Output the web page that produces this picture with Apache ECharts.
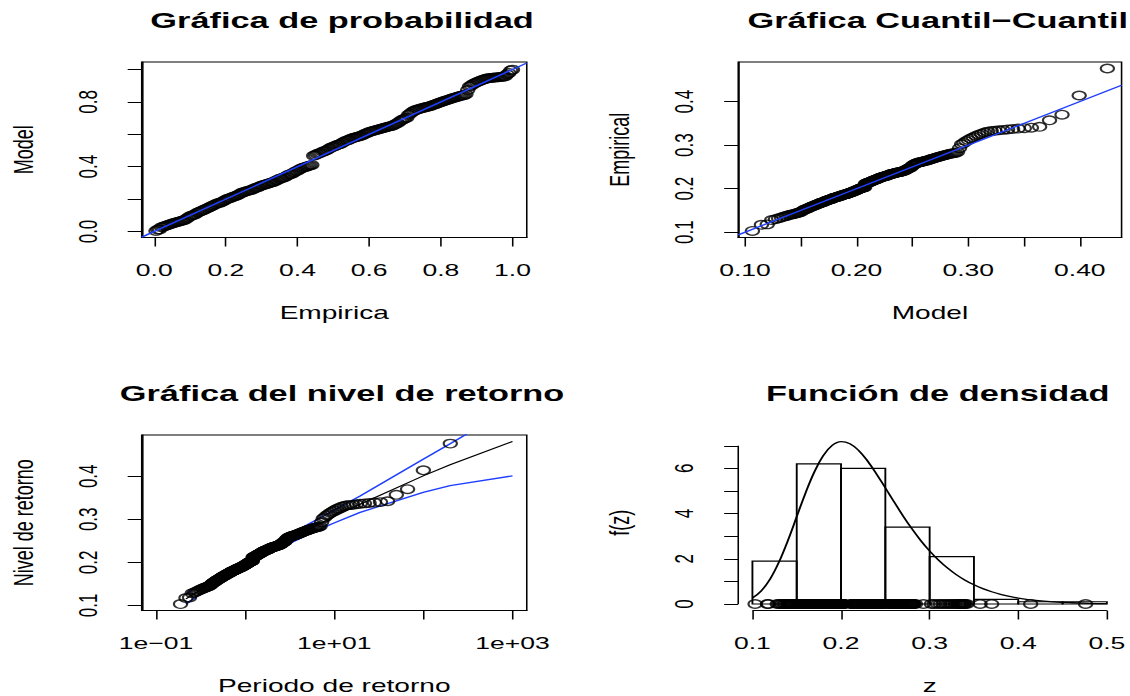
<!DOCTYPE html>
<html><head><meta charset="utf-8">
<script src="https://cdn.jsdelivr.net/npm/echarts@6/dist/echarts.min.js"></script>
<style>
html,body{margin:0;padding:0;background:#fff;overflow:hidden;width:1130px;height:696px}
#stage{width:724px;height:696px;transform:scaleX(1.560773);transform-origin:0 0;}
</style></head><body><div id="stage"></div>
<script>
// ---- data ----
// sorted sample (empirical quantiles), n = 200
const sampleZ = [
 .103,.117,.118,.128,.130,.132,.134,.136,.137,.139,.140,.141,.142,.143,.144,.145,.146,.148,.150,
 .152,.153,.154,.155,.157,.158,.159,.160,.161,.162,.163,
 .164,.165,.166,.167,.168,.1685,.169,.170,.171,.172,
 .173,.1735,.174,.175,.1755,.176,.177,.178,.179,.1795,
 .180,.1805,.181,.1815,.182,.183,.1835,.184,.185,.1855,
 .186,.1865,.187,.1875,.188,.1885,.189,.190,.1905,.1915,
 .192,.1925,.193,.194,.195,.1955,.196,.197,.198,.1985,.1995,
 .2005,.201,.2015,.202,.2025,.203,.2035,
 .2115,.212,.213,.2135,.214,.215,.2155,.216,.217,.218,.219,.2195,
 .220,.221,.2215,.222,.223,.224,.225,.2255,.226,.227,
 .2275,.228,.2285,.229,.2295,.230,.231,.232,.2325,.2335,
 .234,.2345,.235,.2355,.236,.2365,.237,.2375,.238,.2385,
 .239,.2395,.240,.241,.242,.243,.2445,.246,.247,.248,.249,
 .2525,.254,.256,.2575,.2585,.2595,.260,.261,.2615,
 .262,.263,.2635,.264,.265,.266,.267,.268,.269,.270,
 .271,.272,.273,.274,.275,.276,.277,.278,.279,.280,
 .281,.2815,.282,.284,.293,
 .302,.305,.309,.312,.315,.318,.321,.324,.326,.329,.331,.3325,.333,.334,.335,.336,.337,.338,.339,.340,.342,
 .357,.370,.414,.476
];
// fitted GEV parameters (location, scale, shape)
const gevLocation = 0.1975;
const gevScale = 0.0513;
const gevShape = -0.07;

// histogram
const histBreaks = [0.10,0.15,0.20,0.25,0.30,0.35,0.40,0.45,0.50];
const histDensity = [1.9,6.2,6.0,3.4,2.1,0.2,0.1,0.1];
// density curve
const densityZ = [.10,.11,.12,.13,.14,.15,.16,.17,.18,.19,.20,.21,.22,.23,.24,.25,.26,.27,.28,.29,.30,.31,.32,.33,.34,.35,.36,.37,.38,.39,.40,.42,.44,.46,.48,.50];
const densityF = [.265,.583,1.107,1.860,2.806,3.863,4.919,5.852,6.571,7.020,7.187,7.095,6.788,6.323,5.757,5.138,4.508,3.898,3.326,2.806,2.345,1.941,1.595,1.298,1.053,.848,.678,.540,.427,.336,.263,.158,.093,.054,.030,.017];
// return level curve: non-exceedance probabilities, levels and 95% half widths
const rlProb  = [.01,.02,.03,.04,.05,.06,.07,.08,.09,.1,.2,.3,.4,.5,.6,.7,.8,.9,.95,.99,.995,.999];
const rlLevel = [.1148,.1241,.1302,.1350,.1390,.1425,.1456,.1484,.1510,.1534,.1727,.1879,.2020,.2161,.2312,.2485,.2706,.3043,.3351,.401,.427,.481];
const rlHalf  = [.012,.011,.0105,.010,.0098,.0096,.0094,.0092,.0091,.009,.0085,.0085,.0085,.0088,.0093,.010,.0115,.0145,.0190,.0385,.0485,.0800];

// tick values / labels
const ppTicks = [0,0.2,0.4,0.6,0.8,1.0];
const ppXLabels = [0,0.2,0.4,0.6,0.8,1.0];
const ppYLabels = [0,0.4,0.8];
const qqXTicks = [0.10,0.15,0.20,0.25,0.30,0.35,0.40];
const qqXLabels = [0.10,0.20,0.30,0.40];
const zTicks = [0.1,0.2,0.3,0.4];
const rlTickExp = [-1,0,1,2,3];
const rlLabelExp = [-1,1,3];
const dXTicks = [0.1,0.2,0.3,0.4,0.5];
const dYTicks = [0,1,2,3,4,5,6,7];
const dYLabels = [0,2,4,6];

// ---- derived ----
const n = sampleZ.length;
function gevCdf(z){ const t = 1 + gevShape*(z-gevLocation)/gevScale; return Math.exp(-Math.pow(Math.max(t,1e-12), -1/gevShape)); }
function gevQuantile(p){ return gevLocation + gevScale/gevShape*(Math.pow(-Math.log(p), -gevShape) - 1); }

const ppData = sampleZ.map((z,i)=>[(i+1)/n, gevCdf(z)]);
const qqData = sampleZ.map((z,i)=>[gevQuantile((i+1)/(n+1)), z]);
const rlData = sampleZ.map((z,i)=>[-1/Math.log((i+1)/(n+1)), z]);
const rugData = sampleZ.map(z=>[z,0]);
const rlX = rlProb.map(f=>-1/Math.log(f));

const FONT = "'Liberation Sans', Arial, Helvetica, sans-serif";
const BLUE = '#1f3fff';
const tickLen = 9;
const lblSize = 17, nameSize = 18, titleSize = 22;

const ranges = {
  ppX:[-0.0348,1.0398], ppY:[-0.037,1.046],
  qqX:[0.094,0.4374], qqY:[0.0879,0.4909],
  rlX:[Math.pow(10,-1.16),Math.pow(10,3.16)], rlY:[0.088,0.496],
  dX:[0.084,0.516], dY:[-0.288,7.478]
};

const grids = [
  {left:90.8, top:62, width:246.7, height:175.5},
  {left:473.0, top:62, width:245.6, height:175.5},
  {left:90.8, top:435, width:246.7, height:175.5},
  {left:473.0, top:435, width:245.6, height:175.5}
];

function xAx(gi, range, ticks, labels, fmt, name, extra){
  return Object.assign({
    gridIndex:gi, type:'value', min:range[0], max:range[1],
    name:name, nameLocation:'middle', nameGap:66,
    nameTextStyle:{fontFamily:FONT,fontSize:nameSize,color:'#000'},
    axisLine:{show:gi!==3, onZero:false, lineStyle:{color:'#000',width:1}},
    axisTick:{show:true, length:tickLen, customValues:ticks, lineStyle:{color:'#000',width:1}},
    axisLabel:{show:true, customValues:labels, formatter:fmt, margin:24, fontFamily:FONT, fontSize:lblSize, color:'#000'},
    splitLine:{show:false}
  }, extra||{});
}
function yAx(gi, range, ticks, labels, fmt, name){
  return {
    gridIndex:gi, type:'value', min:range[0], max:range[1],
    name:name, nameLocation:'middle', nameGap:67, nameRotate:90,
    nameTextStyle:{fontFamily:FONT,fontSize:nameSize,color:'#000'},
    axisLine:{show:gi!==3, onZero:false, lineStyle:{color:'#000',width:1}},
    axisTick:{show:true, length:tickLen, customValues:ticks, lineStyle:{color:'#000',width:1}},
    axisLabel:{show:true, rotate:90, customValues:labels, formatter:fmt, margin:26, fontFamily:FONT, fontSize:lblSize, color:'#000'},
    splitLine:{show:false}
  };
}
const expLabel = e => '1e' + (e<0?'\u2212':'+') + String(Math.abs(e)).padStart(2,'0');

const circle = {color:'rgba(0,0,0,0)', borderColor:'#000', borderWidth:1.35};
const SYM = 8.5;

const option = {
  backgroundColor:'#fff',
  animation:false,
  title:[
    {text:'Gráfica de probabilidad', left:grids[0].left+grids[0].width/2, top:4},
    {text:'Gráfica Cuantil\u2212Cuantil', left:grids[1].left+grids[1].width/2, top:4},
    {text:'Gráfica del nivel de retorno', left:grids[2].left+grids[2].width/2, top:377},
    {text:'Función de densidad', left:grids[3].left+grids[3].width/2, top:377}
  ].map(t=>Object.assign(t,{textAlign:'center', textStyle:{fontFamily:FONT,fontSize:titleSize,fontWeight:'bold',color:'#000'}})),
  grid: grids.map((g,i)=>Object.assign({}, g, {show:i!==3, borderColor:'#000', borderWidth:1, backgroundColor:'rgba(0,0,0,0)'})),
  xAxis:[
    xAx(0, ranges.ppX, ppTicks, ppXLabels, v=>v.toFixed(1), 'Empirica'),
    xAx(1, ranges.qqX, qqXTicks, qqXLabels, v=>v.toFixed(2), 'Model'),
    xAx(2, ranges.rlX, rlTickExp.map(e=>Math.pow(10,e)), rlLabelExp.map(e=>Math.pow(10,e)), v=>expLabel(Math.round(Math.log10(v))), 'Periodo de retorno', {type:'log', logBase:10}),
    xAx(3, ranges.dX, dXTicks, dXTicks, v=>v.toFixed(1), 'z')
  ],
  yAxis:[
    yAx(0, ranges.ppY, ppTicks, ppYLabels, v=>v.toFixed(1), 'Model'),
    yAx(1, ranges.qqY, zTicks, zTicks, v=>v.toFixed(1), 'Empirical'),
    yAx(2, ranges.rlY, zTicks, zTicks, v=>v.toFixed(1), 'Nivel de retorno'),
    yAx(3, ranges.dY, dYTicks, dYLabels, v=>String(Math.round(v)), 'f(z)')
  ],
  series:[
    // probability plot
    {type:'scatter', xAxisIndex:0, yAxisIndex:0, data:ppData, symbol:'circle', symbolSize:SYM, itemStyle:circle, z:2},
    {type:'line', xAxisIndex:0, yAxisIndex:0, data:[[ranges.ppX[0],ranges.ppX[0]],[ranges.ppX[1],ranges.ppX[1]]], symbol:'none', lineStyle:{color:BLUE,width:1.3}, z:3},
    // QQ plot
    {type:'scatter', xAxisIndex:1, yAxisIndex:1, data:qqData, symbol:'circle', symbolSize:SYM, itemStyle:circle, z:2},
    {type:'line', xAxisIndex:1, yAxisIndex:1, data:[[ranges.qqX[0],ranges.qqX[0]],[ranges.qqX[1],ranges.qqX[1]]], symbol:'none', lineStyle:{color:BLUE,width:1.3}, z:3},
    // return level: curve, bounds, then points
    {type:'line', xAxisIndex:2, yAxisIndex:2, data:rlX.map((x,i)=>[x,rlLevel[i]]), symbol:'none', lineStyle:{color:'#000',width:1.1}, z:2},
    {type:'line', xAxisIndex:2, yAxisIndex:2, data:rlX.map((x,i)=>[x,rlLevel[i]+rlHalf[i]]), symbol:'none', lineStyle:{color:BLUE,width:1.3}, z:2},
    {type:'line', xAxisIndex:2, yAxisIndex:2, data:rlX.map((x,i)=>[x,rlLevel[i]-rlHalf[i]]), symbol:'none', lineStyle:{color:BLUE,width:1.3}, z:2},
    {type:'scatter', xAxisIndex:2, yAxisIndex:2, data:rlData, symbol:'circle', symbolSize:SYM, itemStyle:circle, z:3},
    // density
    {type:'custom', xAxisIndex:3, yAxisIndex:3, z:2,
      data: histDensity.map((d,i)=>[histBreaks[i], histBreaks[i+1], d]),
      encode:{x:[0,1], y:2},
      renderItem:function(params, api){
        const a = api.coord([api.value(0), 0]);
        const b = api.coord([api.value(1), api.value(2)]);
        return {type:'rect', shape:{x:a[0], y:b[1], width:b[0]-a[0], height:a[1]-b[1]}, style:{fill:'none', stroke:'#000', lineWidth:1.2}};
      }},
    {type:'scatter', xAxisIndex:3, yAxisIndex:3, data:rugData, symbol:'circle', symbolSize:SYM, itemStyle:circle, z:3},
    {type:'line', xAxisIndex:3, yAxisIndex:3, data:densityZ.map((z,i)=>[z,densityF[i]]), symbol:'none', smooth:0.4, lineStyle:{color:'#000',width:1.3}, z:4},
    // density panel axis lines (first to last tick)
    {type:'line', xAxisIndex:3, yAxisIndex:3, data:[[dXTicks[0],ranges.dY[0]],[dXTicks[dXTicks.length-1],ranges.dY[0]]], symbol:'none', clip:false, lineStyle:{color:'#000',width:1}, z:5},
    {type:'line', xAxisIndex:3, yAxisIndex:3, data:[[ranges.dX[0],dYTicks[0]],[ranges.dX[0],dYTicks[dYTicks.length-1]]], symbol:'none', clip:false, lineStyle:{color:'#000',width:1}, z:5}
  ]
};
const chart = echarts.init(document.getElementById('stage'), null, {renderer:'svg', width:724, height:696});
chart.setOption(option);
</script></body></html>
